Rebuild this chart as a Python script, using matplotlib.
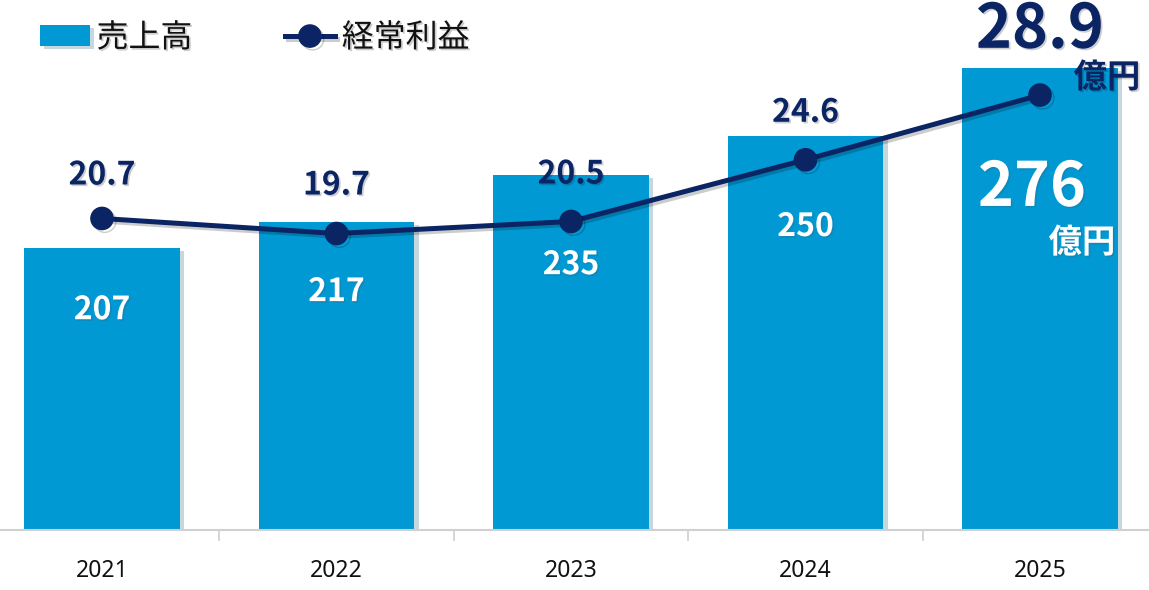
import matplotlib
matplotlib.use("Agg")
import matplotlib.pyplot as plt
import matplotlib.patheffects as pe
import numpy as np

plt.rcParams['font.family'] = ['Noto Sans CJK JP', 'DejaVu Sans']

years = ['2021', '2022', '2023', '2024', '2025']
sales = [207, 217, 235, 250, 276]          # 売上高 (億円)
profit = [20.7, 19.7, 20.5, 24.6, 28.9]    # 経常利益 (億円)

BAR_COLOR = '#0099D4'
LINE_COLOR = '#0B2463'

# label offsets in pixels (bar labels below bar top, line labels above point)
bar_label_dy = [-62, -70, -90, -91, -120]
line_label_dy = [43, 48, 47, 47, 65]
PX = 0.72  # px -> pt at dpi 100

fig = plt.figure(figsize=(11.49, 5.90), dpi=100)
ax = fig.add_axes([0, 60 / 590, 1, 520 / 590])
x = np.arange(len(years))

shadow = [pe.SimplePatchShadow(offset=(3, -2), alpha=0.22, rho=0.5), pe.Normal()]
text_shadow = [pe.withSimplePatchShadow(offset=(1.2, -1.2), alpha=0.2)]

bars = ax.bar(x, sales, width=0.665, color=BAR_COLOR, zorder=2, label='売上高')
for b in bars:
    b.set_path_effects(shadow)

ax.set_xlim((0 - 102) / 234.5, (1149 - 102) / 234.5)
ax.set_ylim(99, 298.3)
ax.set_xticks(x)
ax.set_xticklabels(years, fontsize=16.5, color='#111111', family=['Noto Sans', 'DejaVu Sans'])
ax.tick_params(axis='x', which='major', length=0, pad=21)
ax.set_xticks(x[:-1] + 0.5, minor=True)
ax.tick_params(axis='x', which='minor', length=8, width=1.2, color='#d0d0d0')
ax.set_yticks([])
for s in ['top', 'right', 'left']:
    ax.spines[s].set_visible(False)
ax.spines['bottom'].set_color('#d0d0d0')
ax.spines['bottom'].set_linewidth(1.5)

for i, v in enumerate(sales):
    big = i == len(sales) - 1
    ax.annotate(str(v), (x[i], v), xytext=(-8 * PX if big else 0, bar_label_dy[i] * PX),
                textcoords='offset points', ha='center', va='center',
                fontsize=44 if big else 23, fontweight='bold', color='white',
                path_effects=text_shadow, zorder=5)
    if big:
        ax.annotate('億円', (x[i], v), xytext=(42 * PX, (bar_label_dy[i] - 55) * PX),
                    textcoords='offset points', ha='center', va='center',
                    fontsize=24, fontweight='bold', color='white',
                    path_effects=text_shadow, zorder=5)

ax2 = ax.twinx()
ax2.set_ylim(0, 520 / 15.05)
ax2.set_yticks([])
for s in ax2.spines.values():
    s.set_visible(False)
line, = ax2.plot(x, profit, color=LINE_COLOR, linewidth=3.6, marker='o', markersize=16,
                 zorder=3, label='経常利益')
line.set_path_effects([pe.SimpleLineShadow(offset=(2, -2), alpha=0.2), pe.Normal()])

for i, v in enumerate(profit):
    big = i == len(profit) - 1
    ax2.annotate(f'{v:.1f}', (x[i], v), xytext=(0, line_label_dy[i] * PX),
                 textcoords='offset points', ha='center', va='center',
                 fontsize=44 if big else 23, fontweight='bold', color=LINE_COLOR,
                 path_effects=text_shadow, zorder=6)
    if big:
        ax2.annotate('億円', (x[i], v), xytext=(67 * PX, 17 * PX),
                     textcoords='offset points', ha='center', va='center',
                     fontsize=24, fontweight='bold', color=LINE_COLOR,
                     path_effects=text_shadow, zorder=6)

leg = ax2.legend(handles=[bars, line], loc='upper left', ncol=2,
                 bbox_to_anchor=(40 / 1149, 1 - 22 / 590), bbox_transform=fig.transFigure,
                 frameon=False, fontsize=23, handlelength=1.55, handleheight=0.65,
                 handletextpad=0.22, columnspacing=2.9, borderpad=0, borderaxespad=0)
for t in leg.get_texts():
    t.set_path_effects(text_shadow)
    t.set_color('#111111')

fig.savefig('out.png', dpi=100)
plt.close(fig)
